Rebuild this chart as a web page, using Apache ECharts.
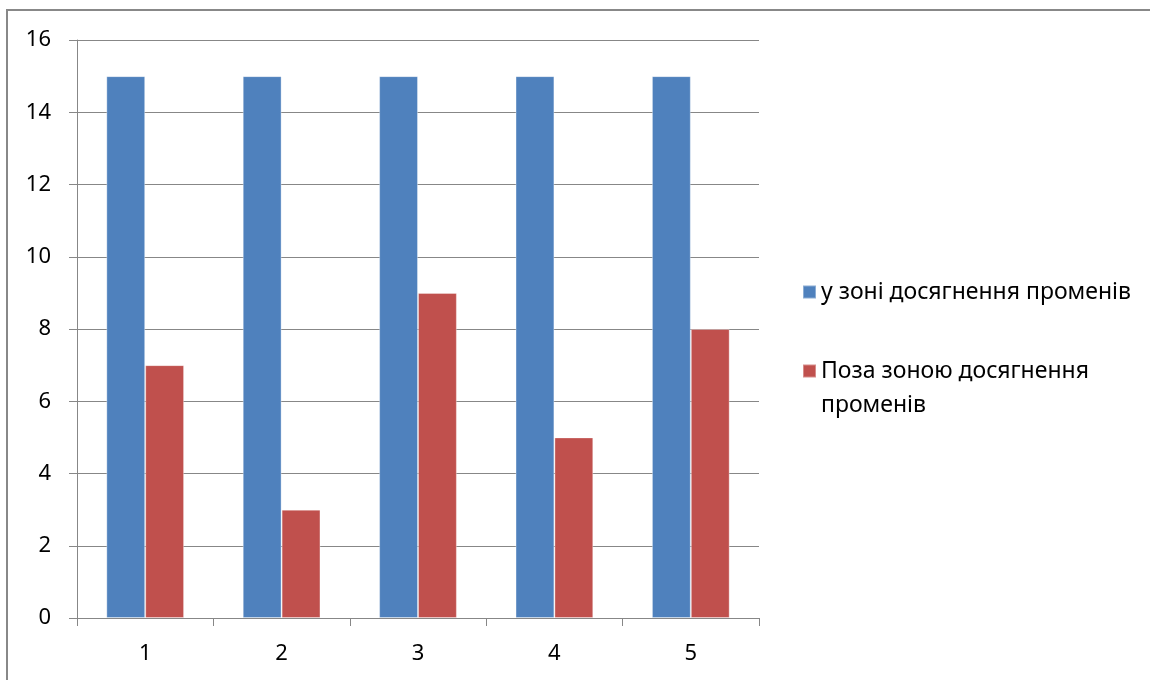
<!DOCTYPE html>
<html>
<head>
<meta charset="utf-8">
<script src="https://cdn.jsdelivr.net/npm/echarts@6/dist/echarts.min.js"></script>
<style>
  html, body { margin: 0; padding: 0; background: #ffffff; }
  #chart { width: 1150px; height: 680px; }
</style>
</head>
<body>
<div id="chart"></div>
<script>
// Data
const categories = ['1', '2', '3', '4', '5'];
const inZoneValues = [15, 15, 15, 15, 15];
const outZoneValues = [7, 3, 9, 5, 8];
const seriesNames = ['у зоні досягнення променів', 'Поза зоною досягнення променів'];
const yAxisMin = 0;
const yAxisMax = 16;
const yAxisStep = 2;

const FONT = 'Noto Sans';
const GRID_GRAY = '#878787';
const BLUE = '#4F81BD';
const RED = '#C0504D';
const LINE_H = 34;

const chart = echarts.init(document.getElementById('chart'), null, { renderer: 'canvas' });

// Split a legend name into lines of at most ~27 characters.
function splitName(name) {
  const words = name.split(' ');
  const lines = [];
  let cur = '';
  words.forEach(w => {
    const next = cur ? cur + ' ' + w : w;
    if (next.length > 27 && cur) { lines.push(cur); cur = w; } else { cur = next; }
  });
  if (cur) lines.push(cur);
  return lines;
}

// Multi-line names: pad above with empty rows so the marker sits beside the first line.
function legendLabel(name) {
  const lines = splitName(name);
  const pad = [];
  for (let i = 1; i < lines.length; i++) pad.push('{e| }');
  return pad.concat(lines.map(l => '{t|' + l + '}')).join('\n');
}

const legendText = {
  fontFamily: FONT,
  fontSize: 23,
  color: '#000',
  lineHeight: LINE_H,
  rich: {
    t: { fontFamily: FONT, fontSize: 23, color: '#000', lineHeight: LINE_H },
    e: { fontFamily: FONT, fontSize: 23, lineHeight: LINE_H }
  }
};

const legendBase = {
  orient: 'vertical',
  left: 802,
  padding: 0,
  icon: 'rect',
  itemWidth: 13,
  itemHeight: 13,
  formatter: legendLabel,
  textStyle: legendText
};

chart.setOption({
  backgroundColor: '#ffffff',
  animation: false,
  graphic: [{
    type: 'rect',
    shape: { x: 7, y: 10, width: 3000, height: 3000 },
    style: { fill: 'none', stroke: '#888888', lineWidth: 2 },
    silent: true
  }],
  legend: [
    Object.assign({}, legendBase, { data: [seriesNames[0]], top: 275 }),
    Object.assign({}, legendBase, { data: [seriesNames[1]], top: 320 })
  ],
  grid: { left: 77, top: 40, right: 391, bottom: 62, containLabel: false },
  xAxis: {
    type: 'category',
    data: categories,
    axisLine: { lineStyle: { color: GRID_GRAY, width: 1 } },
    axisTick: { show: true, length: 8, lineStyle: { color: GRID_GRAY } },
    axisLabel: { margin: 25, fontFamily: FONT, fontSize: 22, color: '#000' },
    splitLine: { show: false }
  },
  yAxis: {
    type: 'value',
    min: yAxisMin,
    max: yAxisMax,
    interval: yAxisStep,
    axisLine: { show: true, lineStyle: { color: GRID_GRAY, width: 1 } },
    axisTick: { show: true, length: 8, lineStyle: { color: GRID_GRAY } },
    axisLabel: { margin: 26, fontFamily: FONT, fontSize: 22, color: '#000' },
    splitLine: { show: true, lineStyle: { color: GRID_GRAY, width: 1 } }
  },
  series: [{
    name: seriesNames[0],
    type: 'bar',
    data: inZoneValues,
    barGap: '0%',
    barCategoryGap: '43%',
    itemStyle: { color: BLUE, borderColor: 'rgba(255,255,255,0.35)', borderWidth: 1 }
  }, {
    name: seriesNames[1],
    type: 'bar',
    data: outZoneValues,
    barGap: '0%',
    barCategoryGap: '43%',
    itemStyle: { color: RED, borderColor: 'rgba(255,255,255,0.35)', borderWidth: 1 }
  }]
});
</script>
</body>
</html>
